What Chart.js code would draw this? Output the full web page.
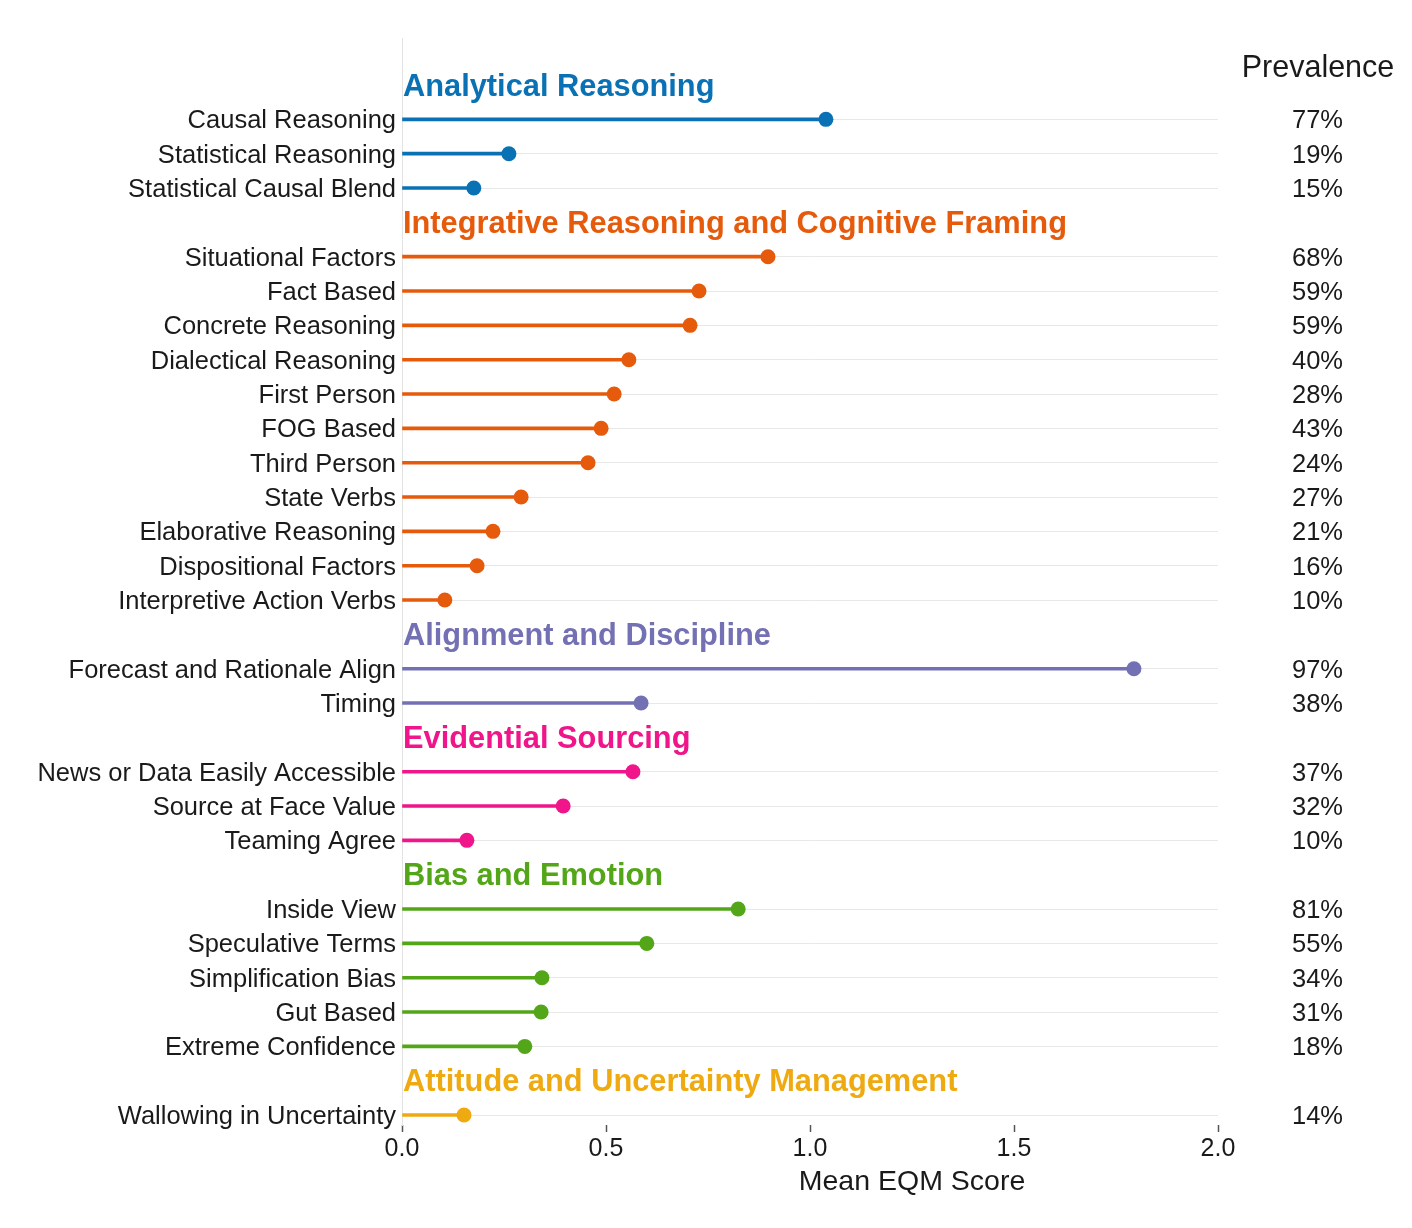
<!DOCTYPE html>
<html>
<head>
<meta charset="utf-8">
<script src="https://cdn.jsdelivr.net/npm/chart.js@4.4.1/dist/chart.umd.min.js"></script>
<style>
  html, body { margin: 0; padding: 0; background: #fff; }
  #wrap { width: 1412px; height: 1228px; }
</style>
</head>
<body>
<div id="wrap"><canvas id="chart"></canvas></div>
<script>
var FONT = '"Liberation Sans", Arial, Helvetica, sans-serif';

var groupNames = [
    'Analytical Reasoning',
    'Integrative Reasoning and Cognitive Framing',
    'Alignment and Discipline',
    'Evidential Sourcing',
    'Bias and Emotion',
    'Attitude and Uncertainty Management'
];
var groupColors = ['#0a72b4', '#e65a0c', '#7470b4', '#f0158b', '#52a617', '#eeaa10'];

var itemNames = [
    'Causal Reasoning', 'Statistical Reasoning', 'Statistical Causal Blend',
    'Situational Factors', 'Fact Based', 'Concrete Reasoning', 'Dialectical Reasoning',
    'First Person', 'FOG Based', 'Third Person', 'State Verbs', 'Elaborative Reasoning',
    'Dispositional Factors', 'Interpretive Action Verbs',
    'Forecast and Rationale Align', 'Timing',
    'News or Data Easily Accessible', 'Source at Face Value', 'Teaming Agree',
    'Inside View', 'Speculative Terms', 'Simplification Bias', 'Gut Based', 'Extreme Confidence',
    'Wallowing in Uncertainty'
];
var itemGroups = [0, 0, 0, 1, 1, 1, 1, 1, 1, 1, 1, 1, 1, 1, 2, 2, 3, 3, 3, 4, 4, 4, 4, 4, 5];
var meanScores = [
    1.039, 0.262, 0.176,
    0.897, 0.728, 0.706, 0.556, 0.520, 0.488, 0.456, 0.292, 0.223, 0.184, 0.105,
    1.794, 0.586,
    0.566, 0.395, 0.159,
    0.824, 0.600, 0.343, 0.341, 0.301,
    0.152
];
var prevalence = [77, 19, 15, 68, 59, 59, 40, 28, 43, 24, 27, 21, 16, 10, 97, 38, 37, 32, 10, 81, 55, 34, 31, 18, 14];
var xTicks = [0, 0.5, 1, 1.5, 2];

// one row per group header, then its items
var rowLabels = [];
var headerRows = [];
var itemRows = [];
var row = 0;
groupNames.forEach(function (g, gi) {
    headerRows.push(row);
    rowLabels.push(g);
    row++;
    itemNames.forEach(function (name, i) {
        if (itemGroups[i] === gi) {
            itemRows[i] = row;
            rowLabels.push(name);
            row++;
        }
    });
});

var points = itemNames.map(function (n, i) { return { x: meanScores[i], y: itemRows[i] }; });
var colors = itemGroups.map(function (g) { return groupColors[g]; });

var textPlugin = {
    id: 'groupText',
    afterDraw: function (chart) {
        var c = chart.ctx;
        var ys = chart.scales.y;
        var xs = chart.scales.x;
        var area = chart.chartArea;
        c.save();
        c.textBaseline = 'middle';

        c.font = 'bold 30.8px ' + FONT;
        c.textAlign = 'left';
        headerRows.forEach(function (r, gi) {
            c.fillStyle = groupColors[gi];
            c.fillText(groupNames[gi], area.left + 1, ys.getPixelForValue(r) + 2);
        });

        c.fillStyle = '#1a1a1a';
        c.font = '25.5px ' + FONT;
        c.textAlign = 'right';
        itemRows.forEach(function (r, i) {
            c.fillText(prevalence[i] + '%', area.right + 125, ys.getPixelForValue(r) + 2);
        });

        c.font = '30.5px ' + FONT;
        c.textAlign = 'center';
        c.fillText('Prevalence', area.right + 100, ys.getPixelForValue(-0.55) + 2);

        c.font = '28.5px ' + FONT;
        c.fillText('Mean EQM Score', xs.getPixelForValue(1.25), area.bottom + 57);
        c.restore();
    }
};

new Chart(document.getElementById('chart'), {
    type: 'bar',
    data: {
        datasets: [{
            type: 'scatter',
            data: points,
            backgroundColor: colors,
            borderColor: colors,
            borderWidth: 0,
            pointRadius: 7.5,
            pointHoverRadius: 7.5
        }, {
            type: 'bar',
            data: points,
            backgroundColor: colors,
            borderWidth: 0,
            barThickness: 3
        }]
    },
    options: {
        indexAxis: 'y',
        responsive: true,
        maintainAspectRatio: false,
        animation: false,
        layout: { padding: { top: 38, right: 194, left: 0, bottom: 0 } },
        plugins: {
            legend: { display: false },
            tooltip: { enabled: false }
        },
        scales: {
            x: {
                type: 'linear',
                position: 'bottom',
                min: 0,
                max: 2,
                afterBuildTicks: function (s) { s.ticks = xTicks.map(function (v) { return { value: v }; }); },
                afterFit: function (s) { s.height = 103; },
                grid: { drawOnChartArea: false, drawTicks: true, tickLength: 7, tickColor: '#555', tickWidth: 1.5 },
                border: { display: false },
                ticks: {
                    callback: function (v) { return Number(v).toFixed(1); },
                    font: { size: 25, family: FONT },
                    color: '#1a1a1a',
                    padding: 2,
                    maxRotation: 0
                }
            },
            y: {
                type: 'linear',
                reverse: true,
                offset: false,
                bounds: 'data',
                min: -1.37,
                max: 30.29,
                afterBuildTicks: function (s) { s.ticks = itemRows.map(function (r) { return { value: r }; }); },
                afterFit: function (s) { s.width = 402; },
                grid: { offset: false, color: '#e8e8e8', lineWidth: 1, drawTicks: false },
                border: { display: true, color: '#e3e3e3', width: 1 },
                ticks: {
                    autoSkip: false,
                    callback: function (v) { return rowLabels[v]; },
                    font: { size: 25.5, family: FONT },
                    color: '#1a1a1a',
                    padding: 6,
                    labelOffset: 2
                }
            }
        }
    },
    plugins: [textPlugin]
});
</script>
</body>
</html>
